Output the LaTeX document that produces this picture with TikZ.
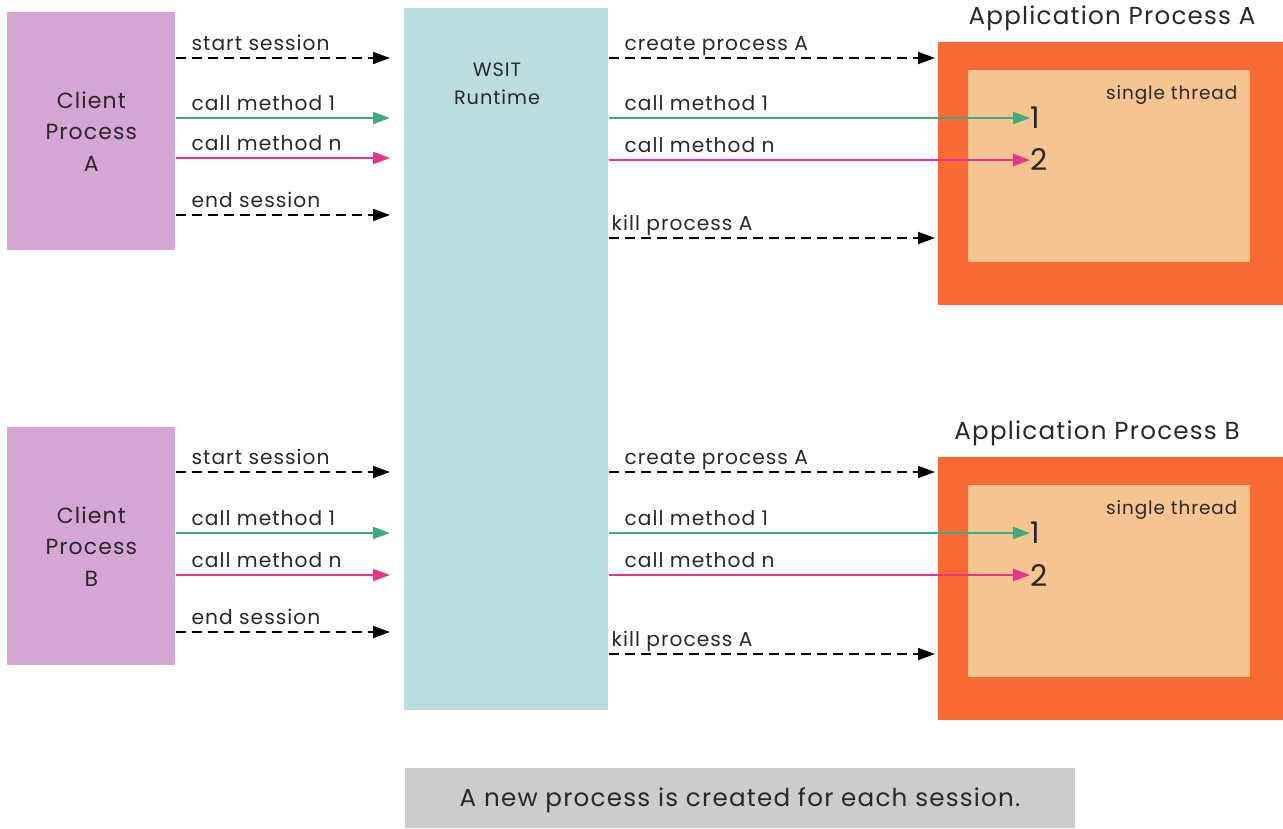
\documentclass[tikz,border=0pt]{standalone}
\usepackage{fontspec}
\setmainfont{Poppins}[LetterSpace=5]
\usetikzlibrary{arrows.meta}
\definecolor{clientc}{RGB}{213,166,211}
\definecolor{wsitc}{RGB}{188,221,222}
\definecolor{outerc}{RGB}{248,106,50}
\definecolor{innerc}{RGB}{245,196,145}
\definecolor{notec}{RGB}{204,204,204}
\definecolor{greenl}{RGB}{60,170,130}
\definecolor{magl}{RGB}{232,50,140}
\definecolor{txt}{RGB}{40,40,40}
\begin{document}
\begin{tikzpicture}[x=0.02cm,y=-0.02cm,
  box/.style={draw=none,anchor=north west,inner sep=0},
  lab/.style={font=\fontsize{11.5}{13}\selectfont,text=txt,inner sep=0},
  big/.style={font=\fontsize{12}{18}\selectfont,text=txt,align=center},
  title/.style={font=\fontsize{14}{18}\selectfont,text=txt,align=center},
  num/.style={lab,font=\fontsize{17}{18}\selectfont,anchor=west},
  thr/.style={lab,font=\fontsize{10.5}{12}\selectfont,anchor=north east},
  tip/.style={-{Triangle[length=0.34cm,width=0.24cm]}},
  dasharrow/.style={tip,line width=1.1pt,black,dash pattern=on 0.2cm off 0.12cm},
  greenarrow/.style={tip,line width=1.1pt,draw=greenl},
  magarrow/.style={tip,line width=1.1pt,draw=magl},
  lablft/.style={lab,at start,anchor=base west,xshift=0.3cm,yshift=0.16cm},
]
\useasboundingbox (0,0) rectangle (1283,828);
% boxes
\node[box,fill=clientc,minimum width=3.36cm,minimum height=4.76cm] (ca) at (7,12) {};
\node[box,fill=clientc,minimum width=3.36cm,minimum height=4.76cm] (cb) at (7,427) {};
\node[box,fill=wsitc,minimum width=4.08cm,minimum height=14.04cm] (wsit) at (404,8) {};
\node[box,fill=outerc,minimum width=6.9cm,minimum height=5.26cm] (pa) at (938,42) {};
\node[box,fill=innerc,minimum width=5.64cm,minimum height=3.84cm] (ia) at (968,70) {};
\node[box,fill=outerc,minimum width=6.9cm,minimum height=5.26cm] (pb) at (938,457) {};
\node[box,fill=innerc,minimum width=5.64cm,minimum height=3.84cm] (ib) at (968,485) {};
\node[box,fill=notec,minimum width=13.4cm,minimum height=1.2cm] (note) at (405,768) {};
% texts
\node[big,font=\fontsize{12.5}{18}\selectfont] (catext) at (ca.center) {Client\\Process\\A};
\node[big,font=\fontsize{12.5}{18}\selectfont] (cbtext) at (cb.center) {Client\\Process\\B};
\node[big,font=\fontsize{11}{16}\selectfont] (wsittext) at (497,84) {WSIT\\Runtime};
\node[title] (patext) at (1112,18) {Application Process A};
\node[title] (pbtext) at (1097,433) {Application Process B};
\node[thr] (sta) at ([xshift=-0.26cm,yshift=-0.3cm]ia.north east) {single thread};
\node[thr] (stb) at ([xshift=-0.26cm,yshift=-0.3cm]ib.north east) {single thread};
\node[num] (a1) at (1030,118) {1};
\node[num] (a2) at (1030,160) {2};
\node[num] (b1) at (1030,533) {1};
\node[num] (b2) at (1030,575) {2};
\node[title] (notetext) at (740,800) {A new process is created for each session.};
% client A -> WSIT
\draw[dasharrow,shorten >=0.28cm] (ca.east |- {(0,58)}) -- node[lablft]{start session} (wsit.west |- {(0,58)});
\draw[greenarrow,shorten >=0.28cm] (ca.east |- {(0,118)}) -- node[lablft]{call method 1} (wsit.west |- {(0,118)});
\draw[magarrow,shorten >=0.28cm] (ca.east |- {(0,158)}) -- node[lablft]{call method n} (wsit.west |- {(0,158)});
\draw[dasharrow,shorten >=0.28cm] (ca.east |- {(0,215)}) -- node[lablft]{end session} (wsit.west |- {(0,215)});
% client B -> WSIT
\draw[dasharrow,shorten >=0.28cm] (cb.east |- {(0,472)}) -- node[lablft]{start session} (wsit.west |- {(0,472)});
\draw[greenarrow,shorten >=0.28cm] (cb.east |- {(0,533)}) -- node[lablft]{call method 1} (wsit.west |- {(0,533)});
\draw[magarrow,shorten >=0.28cm] (cb.east |- {(0,575)}) -- node[lablft]{call method n} (wsit.west |- {(0,575)});
\draw[dasharrow,shorten >=0.28cm] (cb.east |- {(0,632)}) -- node[lablft]{end session} (wsit.west |- {(0,632)});
% WSIT -> process A
\draw[dasharrow,shorten >=0.06cm] (wsit.east |- {(0,58)}) -- node[lablft]{create process A} (pa.west |- {(0,58)});
\draw[greenarrow] (wsit.east |- {(0,118)}) -- node[lablft]{call method 1} (a1.west);
\draw[magarrow] (wsit.east |- {(0,160)}) -- node[lablft]{call method n} (a2.west);
\draw[dasharrow,shorten >=0.06cm] (wsit.east |- {(0,238)}) -- node[lablft,xshift=-0.26cm]{kill process A} (pa.west |- {(0,238)});
% WSIT -> process B
\draw[dasharrow,shorten >=0.06cm] (wsit.east |- {(0,472)}) -- node[lablft]{create process A} (pb.west |- {(0,472)});
\draw[greenarrow] (wsit.east |- {(0,533)}) -- node[lablft]{call method 1} (b1.west);
\draw[magarrow] (wsit.east |- {(0,575)}) -- node[lablft]{call method n} (b2.west);
\draw[dasharrow,shorten >=0.06cm] (wsit.east |- {(0,654)}) -- node[lablft,xshift=-0.26cm]{kill process A} (pb.west |- {(0,654)});
\end{tikzpicture}
\end{document}
